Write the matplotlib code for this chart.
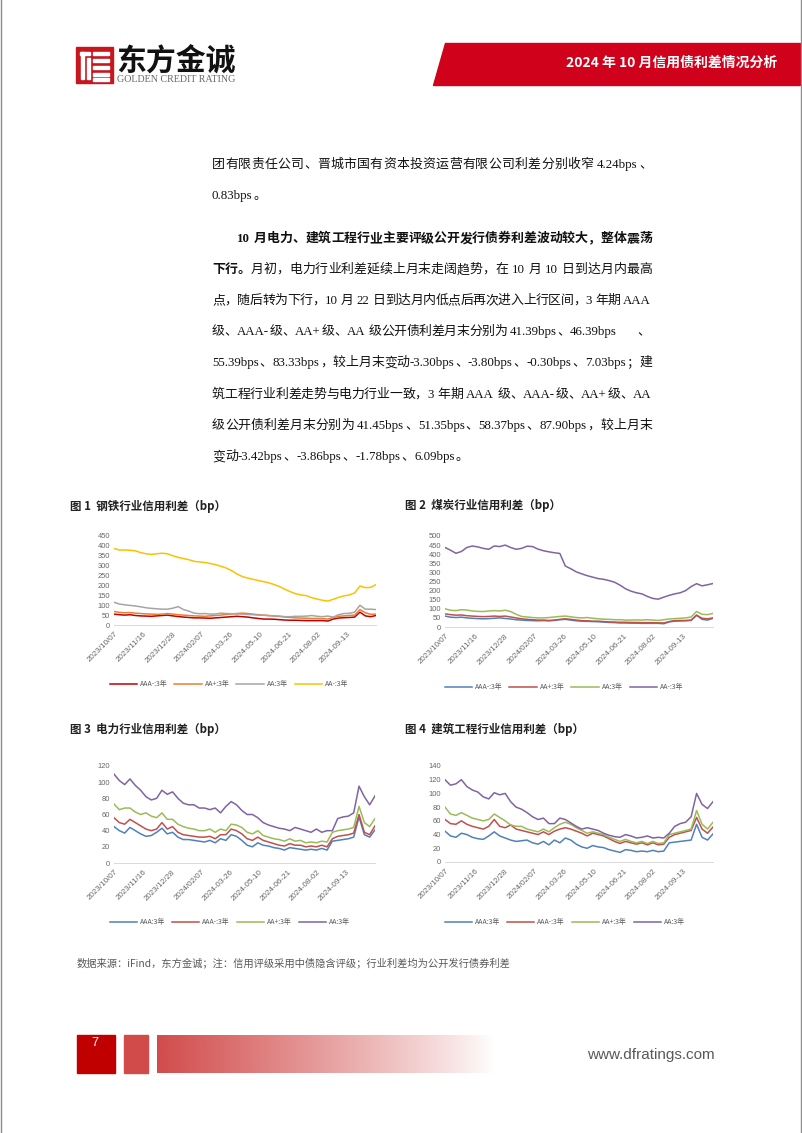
import re
import matplotlib
matplotlib.use('Agg')
import matplotlib.pyplot as plt
import numpy as np
from matplotlib.patches import Rectangle, Polygon
from matplotlib.font_manager import FontProperties

plt.rcParams['font.family'] = ['Liberation Sans', 'Noto Sans CJK SC']

# 横轴标签
date_labels = ['2023/10/07', '2023/11/16', '2023/12/28', '2024/02/07', '2024-03-26',
               '2024-05-10', '2024-06-21', '2024-08-02', '2024-09-13']

# 图1 钢铁
steel_names = ['AAA-:3年', 'AA+:3年', 'AA:3年', 'AA-:3年']
steel_aaa_minus = [55, 52, 50, 52, 48, 46, 45, 44, 46, 48, 50, 46, 43, 40, 38, 36, 36, 35, 34, 36,
                   38, 40, 42, 44, 42, 40, 36, 33, 30, 30, 29, 27, 25, 24, 24, 23, 22, 22, 22, 22,
                   20, 30, 35, 37, 38, 40, 65, 46, 42, 48]
steel_aa_plus = [68, 64, 62, 63, 60, 58, 56, 55, 54, 55, 58, 55, 52, 50, 48, 46, 45, 44, 46, 48,
                 50, 54, 56, 58, 60, 58, 55, 52, 50, 48, 45, 43, 40, 38, 36, 35, 34, 33, 33, 32,
                 30, 38, 44, 46, 48, 50, 78, 62, 54, 55]
steel_aa = [115, 106, 102, 99, 96, 92, 87, 84, 82, 80, 80, 85, 93, 78, 70, 60, 57, 58, 55, 56,
            60, 58, 57, 56, 55, 53, 52, 50, 49, 47, 46, 45, 42, 42, 44, 44, 45, 48, 44, 42,
            45, 40, 52, 58, 59, 65, 100, 80, 80, 78]
steel_aa_minus = [387, 379, 379, 378, 375, 366, 360, 357, 360, 363, 360, 350, 342, 336, 330, 322,
                  319, 316, 311, 305, 297, 288, 275, 258, 245, 237, 231, 225, 219, 213, 204, 194,
                  180, 168, 158, 152, 148, 138, 131, 125, 121, 130, 140, 147, 152, 162, 197, 189,
                  190, 204]

# 图2 煤炭
coal_names = ['AAA-:3年', 'AA+:3年', 'AA:3年', 'AA-:3年']
coal_aaa_minus = [60, 54, 52, 54, 50, 48, 46, 45, 46, 48, 50, 47, 44, 40, 38, 36, 35, 34, 35, 34,
                  36, 40, 42, 38, 34, 32, 31, 30, 29, 27, 25, 24, 22, 22, 21, 21, 20, 20, 20, 20,
                  18, 28, 32, 33, 34, 36, 65, 42, 38, 48]
coal_aa_plus = [72, 68, 65, 66, 62, 60, 58, 57, 58, 60, 58, 60, 55, 50, 45, 42, 40, 38, 38, 36,
                38, 42, 45, 42, 38, 35, 34, 32, 32, 30, 28, 27, 26, 26, 25, 25, 24, 24, 24, 23,
                22, 30, 35, 36, 36, 38, 65, 48, 45, 50]
coal_aa = [100, 92, 90, 95, 93, 88, 86, 85, 88, 90, 88, 92, 85, 70, 58, 55, 52, 50, 50, 52,
           55, 58, 60, 56, 52, 50, 52, 48, 45, 43, 42, 40, 40, 38, 38, 39, 38, 40, 38, 36,
           40, 44, 46, 48, 50, 55, 85, 70, 68, 75]
coal_aa_minus = [437, 422, 405, 415, 437, 445, 440, 432, 427, 445, 442, 450, 437, 427, 432, 444,
                 442, 428, 419, 413, 408, 404, 335, 320, 303, 292, 282, 274, 266, 262, 255, 246,
                 230, 210, 197, 188, 182, 168, 157, 153, 164, 174, 182, 188, 200, 222, 238, 226,
                 232, 239]

# 图3 电力
power_names = ['AAA:3年', 'AAA-:3年', 'AA+:3年', 'AA:3年']
power_aaa = [45, 40, 37, 44, 40, 36, 33, 34, 38, 43, 36, 38, 32, 29, 29, 28, 27, 26, 28, 25,
             30, 28, 35, 33, 28, 22, 20, 25, 22, 21, 19, 18, 16, 19, 18, 17, 16, 17, 16, 18,
             16, 27, 28, 29, 30, 32, 57, 35, 32, 41]
power_aaa_minus = [56, 50, 48, 54, 50, 46, 42, 40, 42, 50, 42, 45, 38, 35, 34, 33, 32, 32, 33, 30,
                   35, 35, 42, 40, 36, 30, 28, 32, 28, 26, 24, 22, 21, 24, 22, 22, 20, 21, 20, 22,
                   20, 30, 33, 34, 35, 37, 60, 38, 35, 46]
power_aa_plus = [73, 66, 68, 68, 63, 60, 62, 58, 56, 62, 54, 54, 48, 45, 43, 42, 40, 40, 42, 38,
                 42, 40, 48, 47, 44, 38, 36, 40, 34, 32, 30, 29, 27, 30, 27, 28, 25, 26, 25, 27,
                 26, 38, 40, 41, 42, 44, 70, 50, 45, 55]
power_aa = [110, 102, 97, 104, 96, 90, 82, 78, 80, 90, 85, 88, 80, 74, 72, 72, 68, 68, 66, 68,
            62, 70, 76, 72, 65, 60, 60, 56, 50, 47, 45, 43, 42, 40, 44, 42, 40, 38, 42, 38,
            40, 40, 55, 57, 58, 62, 95, 82, 72, 83]

# 图4 建筑工程
build_names = ['AAA:3年', 'AAA-:3年', 'AA+:3年', 'AA:3年']
build_aaa = [45, 38, 36, 42, 40, 36, 34, 33, 38, 44, 38, 35, 32, 30, 31, 32, 28, 26, 30, 25,
             32, 28, 35, 32, 26, 22, 20, 24, 22, 21, 18, 16, 14, 18, 17, 15, 16, 15, 17, 15,
             16, 28, 29, 30, 31, 32, 55, 36, 32, 41]
build_aaa_minus = [62, 56, 55, 60, 55, 52, 50, 48, 52, 62, 52, 50, 54, 48, 46, 44, 42, 40, 44, 40,
                   45, 48, 50, 48, 45, 42, 38, 42, 40, 38, 34, 30, 27, 30, 28, 26, 28, 25, 28, 25,
                   26, 36, 40, 42, 44, 46, 65, 48, 42, 51]
build_aa_plus = [80, 70, 68, 72, 68, 64, 62, 60, 62, 70, 65, 60, 54, 52, 52, 48, 46, 44, 48, 44,
                 50, 55, 58, 55, 50, 46, 42, 44, 42, 40, 36, 33, 30, 33, 30, 28, 30, 27, 30, 27,
                 28, 40, 42, 44, 46, 48, 75, 55, 48, 58]
build_aa = [120, 112, 114, 120, 110, 105, 102, 95, 92, 101, 98, 100, 88, 80, 77, 72, 66, 62, 64, 56,
            56, 64, 62, 57, 52, 48, 50, 48, 46, 42, 39, 37, 36, 40, 38, 35, 36, 38, 35, 36,
            35, 42, 52, 56, 58, 66, 100, 84, 78, 88]

W, H = 802, 1133
fig = plt.figure(figsize=(W / 100, H / 100), dpi=100)
fig.patch.set_facecolor('white')

# 背景层，用像素坐标画页面元素
bg = fig.add_axes([0, 0, 1, 1], zorder=-5)
bg.axis('off')

# 页边框
bg.plot([1, 1], [0, H], color='#8c8c8c', lw=1)
bg.plot([800.5, 800.5], [0, H], color='#8c8c8c', lw=1)

# 页眉 logo
red = '#C8161D'
bg.add_patch(Rectangle((76, 47), 37, 36, color=red))
for (x0, y0, w, h) in [(80, 52, 10, 2.5), (81, 52, 2.5, 27), (87, 58, 2.5, 21),
                       (93, 52, 16, 2.5), (93, 59, 16, 2.5), (93, 66, 16, 2.5),
                       (93, 73, 16, 2.5), (93, 78, 16, 2.5)]:
    bg.add_patch(Rectangle((x0, y0), w, h, color='white'))
bg.text(116, 62, '东方金诚', fontsize=21.5, family=['Noto Sans CJK SC'], weight='bold',
        color='#111111', va='center', ha='left')
bg.text(117, 80, 'GOLDEN CREDIT RATING', fontsize=7.2, family=['Liberation Serif'],
        color='#666666', va='center', ha='left')

# 页眉红色条
bg.add_patch(Polygon([(445, 43), (800, 43), (800, 85), (433, 85)], closed=True, color='#D0021B'))
bg.text(777, 63, '2024 年 10 月信用债利差情况分析', fontsize=10, family=['Noto Sans CJK SC'],
        weight='bold', color='white', va='center', ha='right')

# 正文（两端对齐）
renderer = fig.canvas.get_renderer()
body_font = ['Liberation Serif', 'Noto Sans CJK SC']
body_size = 9.3
em = body_size * 100 / 72


def text_line(segs, x0, y, x1=None):
    items = []
    for s, b in segs:
        for tok in re.findall(r'[A-Za-z0-9.+\-]+|\s+|\S', s):
            if tok.isspace():
                items.append((None, 0.25 * em))
                continue
            t = bg.text(0, y, tok, fontsize=body_size, family=body_font,
                        weight='bold' if b else 'normal', va='center', ha='left', color='#111111')
            if tok.isascii():
                w = t.get_window_extent(renderer).width + 1
            else:
                w = em
            items.append((t, w))
    total = sum(w for _, w in items)
    gap = 0 if x1 is None else (x1 - x0 - total) / (len(items) - 1)
    x = x0
    for t, w in items:
        if t is not None:
            t.set_x(x)
        x += w + gap


text_line([('团有限责任公司、晋城市国有资本投资运营有限公司利差分别收窄 4.24bps、', False)], 212, 165, 652)
text_line([('0.83bps。', False)], 212, 196)
text_line([('10 月电力、建筑工程行业主要评级公开发行债券利差波动较大，整体震荡', True)], 237, 239, 652)
text_line([('下行。', True), ('月初，电力行业利差延续上月末走阔趋势，在 10 月 10 日到达月内最高', False)],
          212, 270, 652)
text_line([('点，随后转为下行，10 月 22 日到达月内低点后再次进入上行区间，3 年期 AAA', False)], 212, 301, 652)
text_line([('级、AAA-级、AA+级、AA 级公开债利差月末分别为 41.39bps、46.39bps', False)], 212, 332, 618)
text_line([('、', False)], 637, 332)
text_line([('55.39bps、83.33bps，较上月末变动-3.30bps、-3.80bps、-0.30bps、7.03bps；建', False)],
          212, 363, 652)
text_line([('筑工程行业利差走势与电力行业一致，3 年期 AAA 级、AAA-级、AA+级、AA', False)], 212, 395, 652)
text_line([('级公开债利差月末分别为 41.45bps、51.35bps、58.37bps、87.90bps，较上月末', False)],
          212, 426, 652)
text_line([('变动-3.42bps、-3.86bps、-1.78bps、6.09bps。', False)], 212, 457)

# 图标题
title_kw = dict(fontsize=8.3, family=['Noto Sans CJK SC'], weight='bold', color='#222222',
                va='center', ha='left')
bg.text(70, 506, '图 1  钢铁行业信用利差（bp）', **title_kw)
bg.text(405, 506, '图 2  煤炭行业信用利差（bp）', **title_kw)
bg.text(70, 729, '图 3  电力行业信用利差（bp）', **title_kw)
bg.text(405, 729, '图 4  建筑工程行业信用利差（bp）', **title_kw)

# 四个折线图
xs = np.arange(len(steel_aa))
tick_pos = np.arange(len(date_labels)) * (len(xs) - 1) / 9
leg_font = FontProperties(family=['Noto Sans CJK SC'], size=5)


def draw_chart(box, series, names, colors, ymax, step, leg_c):
    left, top, right, bottom = box
    ax = fig.add_axes([left / W, 1 - bottom / H, (right - left) / W, (bottom - top) / H])
    for vals, name, c in zip(series, names, colors):
        ax.plot(xs, vals, color=c, lw=1.1, label=name)
    ax.set_xlim(0, len(xs) - 1)
    ax.set_ylim(0, ymax)
    ax.set_yticks(np.arange(0, ymax + 1, step))
    ax.set_xticks(tick_pos)
    ax.set_xticklabels(date_labels, rotation=45, ha='right', rotation_mode='anchor')
    ax.tick_params(axis='both', length=0, colors='#666666')
    ax.tick_params(axis='y', labelsize=5.4, pad=3)
    ax.tick_params(axis='x', labelsize=5.8, pad=4)
    for s in ['top', 'right', 'left']:
        ax.spines[s].set_visible(False)
    ax.spines['bottom'].set_color('#D9D9D9')
    ax.spines['bottom'].set_linewidth(0.7)
    ax.patch.set_alpha(0)
    fig.legend(*ax.get_legend_handles_labels(), loc='center',
               bbox_to_anchor=(leg_c[0] / W, 1 - leg_c[1] / H), bbox_transform=fig.transFigure,
               ncol=4, frameon=False, prop=leg_font, handlelength=3.9, handletextpad=0.45,
               columnspacing=1.0, labelcolor='#595959')
    return ax


draw_chart((114, 536, 376, 625), [steel_aaa_minus, steel_aa_plus, steel_aa, steel_aa_minus],
           steel_names, ['#C00000', '#ED7D31', '#A5A5A5', '#FFC000'], 450, 50, (229, 684))
draw_chart((445, 536, 713, 627), [coal_aaa_minus, coal_aa_plus, coal_aa, coal_aa_minus],
           coal_names, ['#4F81BD', '#C0504D', '#9BBB59', '#8064A2'], 500, 50, (564, 687))
draw_chart((114, 766, 375, 863), [power_aaa, power_aaa_minus, power_aa_plus, power_aa],
           power_names, ['#4F81BD', '#C0504D', '#9BBB59', '#8064A2'], 120, 20, (230, 922))
draw_chart((445, 766, 713, 862), [build_aaa, build_aaa_minus, build_aa_plus, build_aa],
           build_names, ['#4F81BD', '#C0504D', '#9BBB59', '#8064A2'], 140, 20, (565, 922))

# 数据来源
bg.text(77, 963, '数据来源：iFind，东方金诚；注：信用评级采用中债隐含评级；行业利差均为公开发行债券利差',
        fontsize=7.4, family=['Noto Sans CJK SC'], color='#595959', va='center', ha='left')

# 页脚
bg.add_patch(Rectangle((77, 1035), 38, 38, color='#C00000'))
bg.text(95, 1043, '7', fontsize=9, color='white', va='center', ha='center')
bg.add_patch(Rectangle((124, 1035), 24, 38, color='#D24B4B'))
grad = np.ones((2, 256, 4))
grad[..., 0] = 0xD2 / 255
grad[..., 1] = 0x4B / 255
grad[..., 2] = 0x4B / 255
grad[..., 3] = np.linspace(1, 0, 256) ** 0.9
bg.imshow(grad, extent=(157, 495, 1073, 1035), aspect='auto', interpolation='bilinear')
bg.text(715, 1055, 'www.dfratings.com', fontsize=11, family=['Liberation Sans Narrow', 'Liberation Sans'],
        color='#595959', va='center', ha='right')

bg.set_xlim(0, W)
bg.set_ylim(H, 0)

plt.savefig('out.png', dpi=100)
